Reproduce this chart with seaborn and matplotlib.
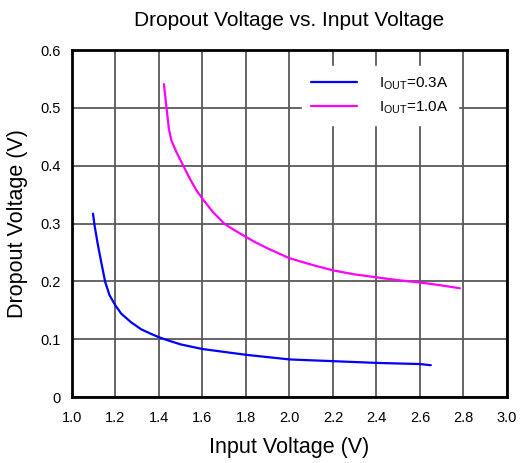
import pandas as pd
import matplotlib.pyplot as plt
import seaborn as sns

# Values
vin_03 = [1.097, 1.104, 1.12, 1.135, 1.153, 1.173, 1.199, 1.227, 1.273, 1.319, 1.365, 1.403, 1.441,
          1.5, 1.6, 1.7, 1.8, 1.9, 2.0, 2.2, 2.4, 2.6, 2.65]
vdo_03 = [0.317, 0.297, 0.262, 0.233, 0.199, 0.176, 0.159, 0.144, 0.129, 0.117, 0.109, 0.103, 0.098,
          0.091, 0.083, 0.078, 0.073, 0.069, 0.065, 0.062, 0.059, 0.057, 0.055]

vin_10 = [1.423, 1.435, 1.446, 1.458, 1.481, 1.512, 1.543, 1.573, 1.604, 1.65, 1.703, 1.749, 1.795,
          1.841, 1.9, 2.0, 2.1, 2.2, 2.3, 2.4, 2.5, 2.6, 2.7, 2.784]
vdo_10 = [0.541, 0.5, 0.463, 0.443, 0.423, 0.4, 0.377, 0.357, 0.341, 0.319, 0.299, 0.288, 0.278,
          0.268, 0.257, 0.24, 0.229, 0.219, 0.212, 0.207, 0.202, 0.198, 0.193, 0.188]

labels = [r"$\mathrm{I_{OUT}}$=0.3A", r"$\mathrm{I_{OUT}}$=1.0A"]
colors = ["#0000ff", "#ff00ff"]

x_ticks = [1.0, 1.2, 1.4, 1.6, 1.8, 2.0, 2.2, 2.4, 2.6, 2.8, 3.0]
y_ticks = [0, 0.1, 0.2, 0.3, 0.4, 0.5, 0.6]
y_tick_labels = ["0", "0.1", "0.2", "0.3", "0.4", "0.5", "0.6"]

df = pd.concat([
    pd.DataFrame({"vin": vin_03, "vdo": vdo_03, "cond": labels[0]}),
    pd.DataFrame({"vin": vin_10, "vdo": vdo_10, "cond": labels[1]}),
])

sns.set_style("white")
plt.rcParams["font.family"] = ["Liberation Sans", "DejaVu Sans"]
plt.rcParams["mathtext.fontset"] = "custom"
plt.rcParams["mathtext.rm"] = "Liberation Sans"
plt.rcParams["text.color"] = "black"
plt.rcParams["axes.labelcolor"] = "black"
plt.rcParams["xtick.color"] = "black"
plt.rcParams["ytick.color"] = "black"

fig = plt.figure(figsize=(5.21, 4.63), dpi=100)
ax = fig.add_axes([0.138, 0.1425, 0.835, 0.7495])

sns.lineplot(data=df, x="vin", y="vdo", hue="cond", palette=colors,
             linewidth=1.6, sort=False, ax=ax)

ax.set_xlim(1.0, 3.0)
ax.set_ylim(0, 0.6)
ax.set_xticks(x_ticks)
ax.set_xticklabels([f"{t:.1f}" for t in x_ticks])
ax.set_yticks(y_ticks)
ax.set_yticklabels(y_tick_labels)
ax.tick_params(length=0, labelsize=10.5, pad=10)
ax.tick_params(axis="y", pad=8)
ax.grid(True, color="0.35", linewidth=1.3)
ax.set_axisbelow(True)
for s in ax.spines.values():
    s.set_color("black")
    s.set_linewidth(2)

ax.set_title("Dropout Voltage vs. Input Voltage", fontsize=15, pad=17, color="black")
ax.set_xlabel("Input Voltage (V)", fontsize=15.5, labelpad=9)
ax.set_ylabel("Dropout Voltage (V)", fontsize=15.5, labelpad=9)

leg = ax.legend(loc="upper right", bbox_to_anchor=(0.905, 0.975), fontsize=11,
                frameon=True, fancybox=False, framealpha=1, edgecolor="white",
                handlelength=3.0, handletextpad=1.45, borderpad=0.6,
                labelspacing=0.5, title=None)
for t in leg.get_texts():
    t.set_color("black")

fig.savefig("out.png", dpi=100)
